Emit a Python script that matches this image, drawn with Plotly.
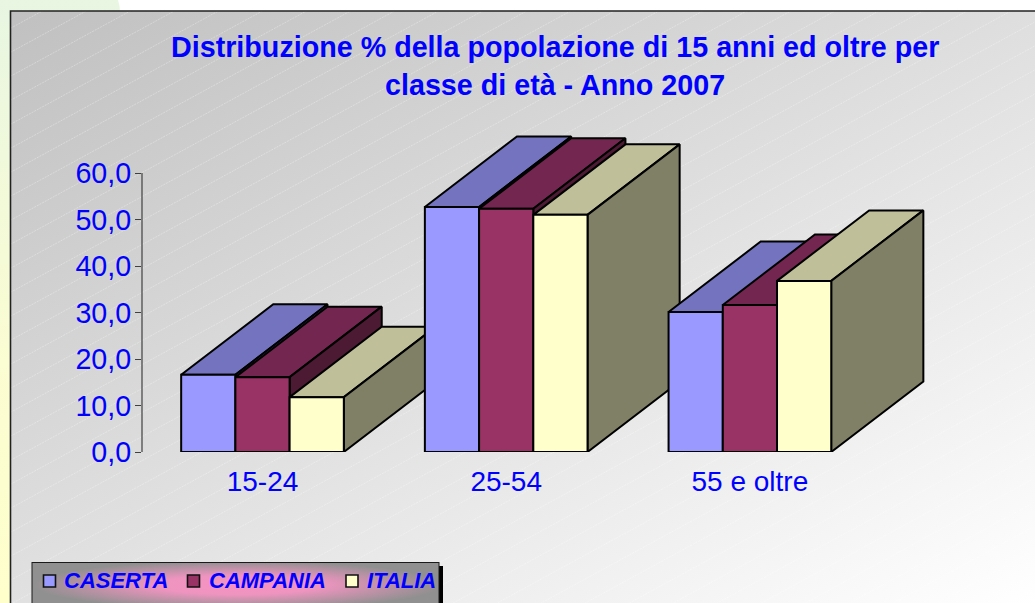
import base64
import plotly.graph_objects as go

# ---- data ----
categories = ["15-24", "25-54", "55 e oltre"]
series_names = ["CASERTA", "CAMPANIA", "ITALIA"]
caserta = [16.6, 52.7, 30.1]
campania = [16.1, 52.3, 31.6]
italia = [11.8, 51.0, 36.8]
y_ticks = [0, 10, 20, 30, 40, 50, 60]
title_lines = ["Distribuzione % della popolazione di 15 anni ed oltre per",
               "classe di età - Anno 2007"]

# ---- styles ----
W, H = 1035, 603
front = ["#9999FF", "#993366", "#FFFFCC"]
top = ["#7373BF", "#732650", "#BFBF99"]
side = ["#4D4D80", "#4D1A33", "#808066"]
BLUE = "#0000FF"
FONT = "Liberation Sans, Arial, sans-serif"
BAR_W = 0.2225
DEPTH_X = 0.378
DEPTH_Y = 15.16
X0_PX, X1_PX = 142, W
Y0_PX, Y60_PX = 452, 173
PX_PER_CAT = 243.7
PX_PER_UNIT = (Y0_PX - Y60_PX) / 60


def px(x):
    return x / W


def py(y):
    return 1 - y / H


# ---- decorative background ----
stripes = "".join(
    f'<line x1="0" y1="{y}" x2="1035" y2="{y - 1035 * 0.545:.1f}"/>'
    for y in range(10, 1200, 24)
)
svg = f'''<svg xmlns="http://www.w3.org/2000/svg" width="{W}" height="{H}" viewBox="0 0 {W} {H}">
<defs>
<linearGradient id="side" x1="0" y1="0" x2="0" y2="1">
<stop offset="0" stop-color="#E8F6E2"/><stop offset="0.6" stop-color="#FBFDD2"/><stop offset="1" stop-color="#FFFFCC"/>
</linearGradient>
<linearGradient id="panel" gradientUnits="userSpaceOnUse" x1="10" y1="10" x2="484" y2="898">
<stop offset="0" stop-color="#C0C0C0"/><stop offset="1" stop-color="#FFFFFF"/>
</linearGradient>
<radialGradient id="leg" gradientUnits="userSpaceOnUse" cx="0" cy="0" r="1" gradientTransform="translate(238,585) scale(205,24)">
<stop offset="0" stop-color="#F792C3"/><stop offset="0.4" stop-color="#EE94BF"/><stop offset="1" stop-color="#909090"/>
</radialGradient>
<clipPath id="pc"><rect x="11" y="11" width="1024" height="592"/></clipPath>
</defs>
<rect width="{W}" height="{H}" fill="#FFFFFF"/>
<path d="M0 0H118Q120 6 120 12H11V{H}H0Z" fill="url(#side)"/>
<rect x="10.5" y="11" width="1030" height="600" fill="url(#panel)"/>
<g clip-path="url(#pc)" stroke="#FFFFFF" stroke-opacity="0.3" stroke-width="1" stroke-dasharray="2 1">{stripes}</g>
<path d="M10.5 {H}V11H{W}" fill="none" stroke="#222222" stroke-width="1.6"/>
<rect x="439" y="566" width="4" height="40" fill="#000000"/>
<rect x="32" y="562.5" width="407" height="50" fill="#909090"/>
<rect x="32" y="562.5" width="407" height="50" fill="url(#leg)" stroke="#1A1A1A" stroke-width="1"/>
</svg>'''
bg_uri = "data:image/svg+xml;base64," + base64.b64encode(svg.encode()).decode()

# ---- 3D bars, drawn back-to-front through the data axes ----
fig = go.Figure()
all_values = [caserta, campania, italia]


def face(xs, ys, color, name):
    fig.add_trace(go.Scatter(
        x=xs, y=ys, mode="lines", fill="toself", fillcolor=color, name=name,
        line=dict(color="#000000", width=2), hoverinfo="skip", showlegend=False,
    ))


for c, cat in enumerate(categories):
    for s, name in enumerate(series_names):
        v = all_values[s][c]
        a = c + (s - 1.5) * BAR_W
        b = a + BAR_W
        face([a, b, b + DEPTH_X, a + DEPTH_X, a], [v, v, v + DEPTH_Y, v + DEPTH_Y, v], top[s], f"{name} {cat}")
        face([b, b + DEPTH_X, b + DEPTH_X, b, b], [0, DEPTH_Y, v + DEPTH_Y, v, 0], side[s], f"{name} {cat}")
        face([a, b, b, a, a], [0, 0, v, v, 0], front[s], f"{name} {cat}")

# ---- legend and title, placed as in the reference ----
shapes = [dict(type="line", xref="x domain", yref="y", x0=0, x1=0, y0=0, y1=60,
               line=dict(color="#404040", width=1.2))]
swatch_x = [43.5, 187.5, 346]
label_x = [62, 207, 365]
annotations = []
for s, name in enumerate(series_names):
    shapes.append(dict(type="rect", xref="paper", yref="paper",
                       x0=px(swatch_x[s]), x1=px(swatch_x[s] + 12),
                       y0=py(587), y1=py(575),
                       fillcolor=front[s], line=dict(color="#111111", width=1.6)))
    annotations.append(dict(text=f"<b><i>{name}</i></b>", xref="paper", yref="paper",
                            x=px(label_x[s]), y=py(580), xanchor="left", yanchor="middle",
                            showarrow=False, font=dict(family=FONT, size=22, color=BLUE)))
for line, cy in zip(title_lines, [47, 85.5]):
    annotations.append(dict(text=f"<b>{line}</b>", xref="paper", yref="paper",
                            x=px(555), y=py(cy), xanchor="center", yanchor="middle",
                            showarrow=False, font=dict(family=FONT, size=28.7, color=BLUE)))

fig.update_layout(
    width=W, height=H, margin=dict(l=0, r=0, t=0, b=0, autoexpand=False),
    paper_bgcolor="rgba(0,0,0,0)", plot_bgcolor="rgba(0,0,0,0)",
    separators=",.", showlegend=False, shapes=shapes, annotations=annotations,
    font=dict(family=FONT, color=BLUE),
    images=[dict(source=bg_uri, xref="paper", yref="paper", x=0, y=1, sizex=1, sizey=1,
                 xanchor="left", yanchor="top", sizing="stretch", layer="below")],
    xaxis=dict(domain=[px(X0_PX), 1], automargin=False,
               range=[(X0_PX - 262.5) / PX_PER_CAT, (X1_PX - 262.5) / PX_PER_CAT],
               tickvals=[0, 1, 2], ticktext=categories, ticks="outside", ticklen=4,
               tickcolor="rgba(0,0,0,0)", showgrid=False, zeroline=False, showline=False,
               tickfont=dict(family=FONT, size=28, color=BLUE)),
    yaxis=dict(domain=[py(Y0_PX), 1], range=[0, Y0_PX / PX_PER_UNIT], automargin=False,
               tickvals=y_ticks, tickformat=".1f", ticks="outside", ticklen=6, tickwidth=1.2,
               ticklabelstandoff=-2,
               tickcolor="#404040", showgrid=False, zeroline=False, showline=False,
               tickfont=dict(family=FONT, size=28.7, color=BLUE)),
)

fig.write_html(
    "out.html",
    config=dict(displayModeBar=False, responsive=False),
    default_width=f"{W}px", default_height=f"{H}px",
    post_script="document.documentElement.style.overflow='hidden';document.body.style.margin='0';",
)
